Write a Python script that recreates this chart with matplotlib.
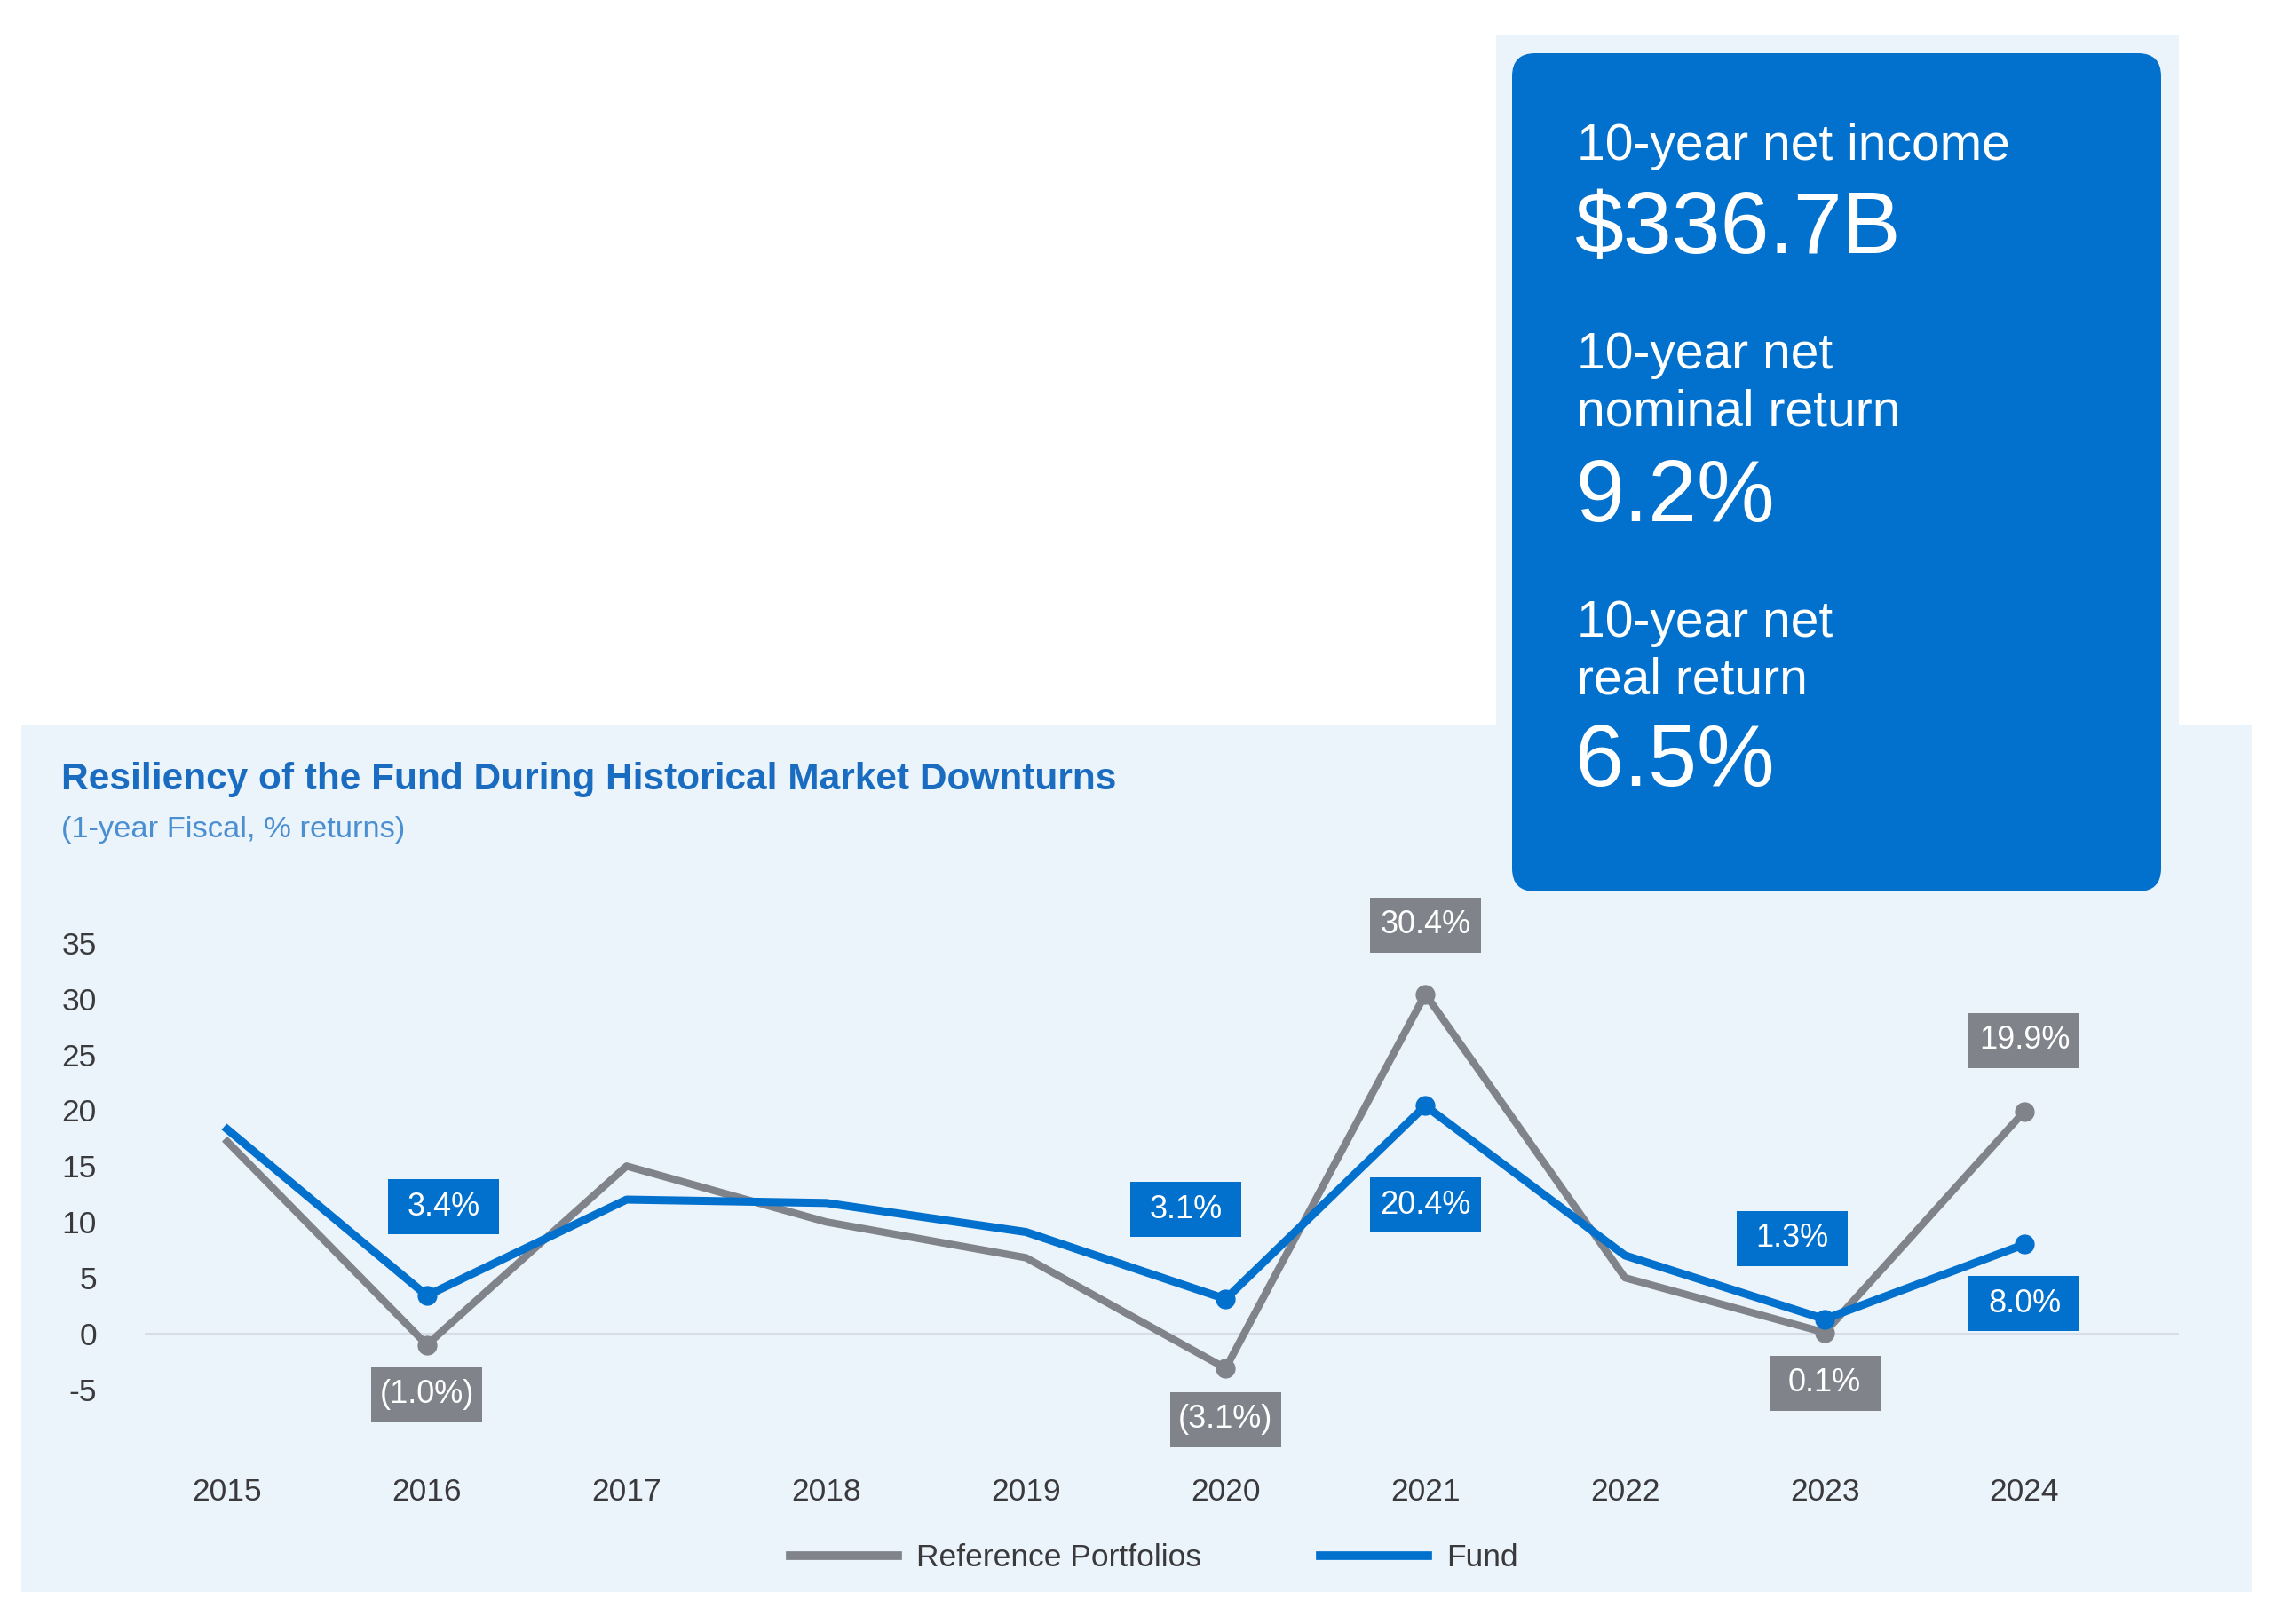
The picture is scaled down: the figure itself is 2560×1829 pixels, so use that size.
import matplotlib

matplotlib.use("Agg")

import matplotlib.pyplot as plt
import matplotlib.transforms as mtransforms
from matplotlib.lines import Line2D
from matplotlib.patches import FancyBboxPatch, Rectangle

plt.rcParams["font.family"] = ["Liberation Sans", "DejaVu Sans"]

# ---- data -----------------------------------------------------------------
YEARS = ["2015", "2016", "2017", "2018", "2019", "2020", "2021", "2022", "2023", "2024"]
REFERENCE = [17.2, -1.0, 15.0, 10.0, 6.8, -3.1, 30.4, 5.0, 0.1, 19.9]
FUND = [18.3, 3.4, 12.0, 11.7, 9.1, 3.1, 20.4, 7.0, 1.3, 8.0]
LABELED = [1, 5, 6, 8, 9]  # years that carry a marker and a value box
Y_TICKS = [-5, 0, 5, 10, 15, 20, 25, 30, 35]

HIGHLIGHT_LABELS = [["10-year net income"], ["10-year net", "nominal return"], ["10-year net", "real return"]]
HIGHLIGHT_VALUES = ["$336.7B", "9.2%", "6.5%"]

TITLE = "Resiliency of the Fund During Historical Market Downturns"
SUBTITLE = "(1-year Fiscal, % returns)"

# ---- style ----------------------------------------------------------------
W, H = 2560, 1829
BLUE = "#0270cd"
GRAY = "#80838a"
PANEL = "#ebf3fb"
TEXT = "#3a3a3c"

# label box offsets from the point, in pixels (dx, dy up)
REF_OFFSETS = [(0, -56), (0, -58), (0, 78), (0, -57), (0, 80)]
FUND_OFFSETS = [(19, 100), (-45, 101), (0, -112), (-37, 91), (0, -67)]
BOX_W, BOX_H = 125, 62


def fx(x: float) -> float:
    return x / W


def fy(y: float) -> float:
    return 1 - y / H


def _fmt(v: float) -> str:
    return f"({abs(v):.1f}%)" if v < 0 else f"{v:.1f}%"


def _value_box(ax, x, y, dx, dy, text, color):
    trans = mtransforms.Affine2D().translate(dx - BOX_W / 2, dy - BOX_H / 2) + mtransforms.ScaledTranslation(
        x, y, ax.transData
    )
    ax.add_patch(Rectangle((0, 0), BOX_W, BOX_H, transform=trans, facecolor=color, edgecolor="none",
                           zorder=6, clip_on=False))
    ax.annotate(text, xy=(x, y), xytext=(dx, dy), textcoords="offset pixels", ha="center", va="center",
                color="white", fontsize=26, zorder=7, annotation_clip=False)


def main() -> None:
    fig = plt.figure(figsize=(W / 100, H / 100), dpi=100)
    ident = mtransforms.IdentityTransform()

    # background panels (pixel coords, y up)
    fig.add_artist(Rectangle((24, H - 1793), 2512, 977, transform=ident, facecolor=PANEL, edgecolor="none", zorder=0))
    fig.add_artist(Rectangle((1685, H - 816), 769, 777, transform=ident, facecolor=PANEL, edgecolor="none", zorder=0))
    fig.add_artist(FancyBboxPatch((1703, H - 1004), 731, 944, boxstyle="round,pad=0,rounding_size=26",
                                  transform=ident, facecolor=BLUE, edgecolor="none", zorder=1))

    # highlight card text
    label_y = [[165], [400, 465], [702, 766]]
    value_y = [260, 561, 860]
    for lines, ys, value, vy in zip(HIGHLIGHT_LABELS, label_y, HIGHLIGHT_VALUES, value_y):
        for line, ly in zip(lines, ys):
            fig.text(fx(1776), fy(ly), line, color="white", fontsize=41, va="center", ha="left", zorder=3)
        fig.text(fx(1774), fy(vy), value, color="white", fontsize=71, va="center", ha="left", zorder=3)

    fig.text(fx(69), fy(878), TITLE, color="#1a6cc0", fontsize=30.5, weight="bold", va="center")
    fig.text(fx(69), fy(935), SUBTITLE, color="#4a8fd2", fontsize=24.8, va="center")

    # chart axes
    y_px = 12.58
    x_px = 224.9
    bottom = 1502 + 8 * y_px
    ax = fig.add_axes([fx(163), fy(bottom), (2454 - 163) / W, 46 * y_px / H])
    ax.set_facecolor("none")
    ax.set_xlim(-0.413, -0.413 + (2454 - 163) / x_px)
    ax.set_ylim(-8, 38)
    for spine in ax.spines.values():
        spine.set_visible(False)

    x = list(range(len(YEARS)))
    ax.axhline(0, color="#d6dde6", lw=1.5, zorder=1)
    ax.plot(x, REFERENCE, color=GRAY, lw=6, zorder=3)
    ax.plot(x, FUND, color=BLUE, lw=6.5, zorder=4)
    ax.plot([x[i] for i in LABELED], [REFERENCE[i] for i in LABELED], "o", ms=15, color=GRAY, zorder=3)
    ax.plot([x[i] for i in LABELED], [FUND[i] for i in LABELED], "o", ms=15, color=BLUE, zorder=4)

    for k, i in enumerate(LABELED):
        dx, dy = REF_OFFSETS[k]
        _value_box(ax, x[i], REFERENCE[i], dx, dy, _fmt(REFERENCE[i]), GRAY)
        dx, dy = FUND_OFFSETS[k]
        _value_box(ax, x[i], FUND[i], dx, dy, _fmt(FUND[i]), BLUE)

    ax.set_xticks(x)
    ax.set_xticklabels(YEARS)
    ax.set_yticks(Y_TICKS)
    ax.set_yticklabels([str(t) for t in Y_TICKS])
    ax.tick_params(axis="both", length=0, labelsize=25.5, labelcolor=TEXT)
    ax.tick_params(axis="y", pad=39)
    ax.tick_params(axis="x", pad=44)

    handles = [Line2D([], [], color=GRAY, lw=7), Line2D([], [], color=BLUE, lw=7)]
    ax.legend(handles, ["Reference Portfolios", "Fund"], loc="center", ncol=2, frameon=False, fontsize=25.5,
              handlelength=3.4, handletextpad=0.6, columnspacing=3.8, labelcolor=TEXT,
              bbox_to_anchor=(fx(1300), fy(1755)), bbox_transform=fig.transFigure)

    fig.savefig("out.png", dpi=100, facecolor="white")
    plt.close(fig)


if __name__ == "__main__":
    main()
